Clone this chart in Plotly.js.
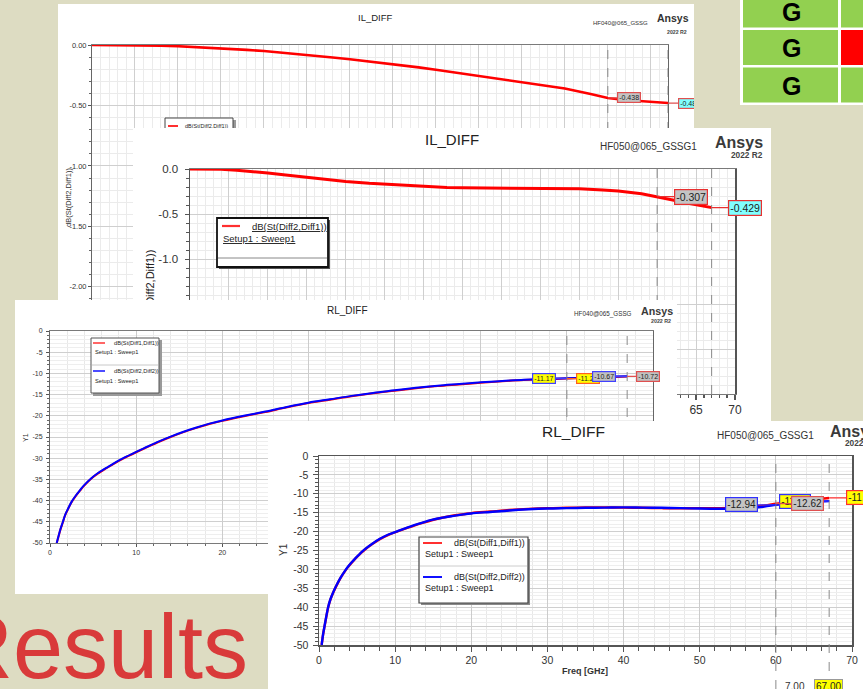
<!DOCTYPE html>
<html><head><meta charset="utf-8">
<script src="https://cdn.plot.ly/plotly-3.0.1.min.js"></script>
<style>
html,body{margin:0;padding:0;background:#dddcc2;overflow:hidden;}
#stage{position:relative;width:863px;height:689px;overflow:hidden;background:#dddcc2;}
.pn{position:absolute;overflow:hidden;}
</style></head><body>
<div id="stage">
 <div id="bg" class="pn" style="left:0px;top:0px;width:863px;height:689px;z-index:0"></div>
 <div id="p1" class="pn" style="left:58px;top:4px;width:636px;height:307px;z-index:1"></div>
 <div id="p2" class="pn" style="left:133px;top:128px;width:638px;height:293px;z-index:2"></div>
 <div id="p3" class="pn" style="left:15px;top:300px;width:662px;height:294px;z-index:3"></div>
 <div id="p4" class="pn" style="left:268px;top:421px;width:595px;height:268px;z-index:4"></div>
</div>
<script>
const FONT = '"Liberation Sans", Arial, sans-serif';

// ================= DATA =================
const markerFreqs = [60, 67];

// IL_DIFF  HF040@065_GSSG  dB(St(Diff2,Diff1))
const freqIL040 = [0,2,5,8,10,13,15,18,20,23,25,28,30,33,35,38,40,43,45,48,50,53,55,58,60,62,64,66,67];
const il040_S21 = [0,0,-0.002,-0.006,-0.01,-0.02,-0.027,-0.04,-0.05,-0.068,-0.082,-0.104,-0.118,-0.142,-0.158,-0.185,-0.205,-0.235,-0.255,-0.285,-0.306,-0.337,-0.36,-0.405,-0.438,-0.455,-0.466,-0.475,-0.48];
const il040Markers = [-0.438, -0.48];
const il040MarkerText = ['-0.438', '-0.480'];
const il040TickVals = [0, -0.5, -1, -1.5, -2];
const il040TickText = ['0.00', '-0.50', '-1.00', '-1.50', '-2.00'];

// IL_DIFF  HF050@065_GSSG1
const freqIL050 = [0,2,4,6,8,10,12,15,18,20,23,25,28,30,33,35,38,40,43,45,48,50,53,55,58,60,62,64,66,67];
const il050_S21 = [0,0,-0.004,-0.014,-0.028,-0.045,-0.065,-0.095,-0.122,-0.138,-0.158,-0.168,-0.185,-0.195,-0.205,-0.209,-0.212,-0.213,-0.213,-0.214,-0.216,-0.22,-0.232,-0.245,-0.275,-0.307,-0.345,-0.38,-0.41,-0.429];
const il050Markers = [-0.307, -0.429];
const il050MarkerText = ['-0.307', '-0.429'];
const il050TickVals = [0, -0.5, -1, -1.5, -2, -2.5];
const il050TickText = ['0.0', '-0.5', '-1.0', '-1.5', '-2.0', '-2.5'];
const il050FreqTickVals = [0,5,10,15,20,25,30,35,40,45,50,55,60,65,70];
const il050FreqTickText = ['0','5','10','15','20','25','30','35','40','45','50','55','60','65','70'];

// RL_DIFF  HF040@065_GSSG
const freqRL040 = [0.78,1,1.2,1.5,1.75,2,2.5,3,3.5,4,4.8,5.5,6.6,7.5,8.5,10,11,12.8,14,15.5,17,18.5,20,22.5,25,27.5,30,32.5,35,37.5,40,42.5,45,47.5,50,52.5,55,57.5,60,62,64,66,67];
const rl040_S22 = [-50,-48.3,-46.8,-45,-43.4,-42.3,-40.3,-38.8,-37.5,-36.3,-34.7,-33.6,-32.2,-31.1,-30,-28.5,-27.55,-25.9,-24.9,-23.75,-22.75,-21.85,-21.1,-20,-19,-17.9,-16.9,-16.1,-15.3,-14.6,-14,-13.4,-12.9,-12.5,-12.1,-11.8,-11.5,-11.3,-11.17,-11,-10.85,-10.72,-10.67];
const rl040_S11 = [-50,-48.4,-46.9,-45.1,-43.5,-42.4,-40.4,-38.9,-37.6,-36.4,-34.8,-33.7,-32.3,-31.2,-30.1,-28.6,-27.65,-26,-25,-23.85,-22.85,-21.95,-21.2,-20.1,-19.1,-18,-17,-16.2,-15.4,-14.7,-14.1,-13.5,-13,-12.6,-12.2,-11.85,-11.55,-11.35,-11.22,-11.05,-10.9,-10.77,-10.72];
const rl040MarkS22 = [-11.17, -10.67];
const rl040MarkS11 = [-11.22, -10.72];
const rl040MarkS22Text = ['-11.17', '-10.67'];
const rl040MarkS11Text = ['-11.22', '-10.72'];

// RL_DIFF  HF050@065_GSSG1
const freqRL050 = [0.35,0.55,0.8,1,1.2,1.5,1.9,2.3,2.8,3.3,3.8,4.3,4.8,5.4,6,7,8,9.2,10.4,11.5,12.5,13.6,14.8,16,17.5,19,20,22.5,25,27.5,30,32.5,35,37.5,40,42.5,45,47.5,50,52.5,55,57,58.5,60,61,62,63,64,65,66,67];
const rl050_S22 = [-50,-47,-44.2,-42,-40,-37.9,-35.9,-34.2,-32.3,-30.7,-29.3,-28.1,-27,-25.8,-24.7,-23.2,-21.9,-20.7,-19.8,-19,-18.3,-17.6,-16.9,-16.4,-15.9,-15.45,-15.2,-14.8,-14.4,-14.1,-13.9,-13.8,-13.7,-13.65,-13.6,-13.65,-13.7,-13.8,-13.9,-13.95,-13.9,-13.7,-13.4,-12.94,-12.7,-12.5,-12.35,-12.2,-12.1,-12,-11.93];
const rl050_S11 = [-50,-47.1,-44.3,-42.1,-40.1,-38,-36,-34.3,-32.4,-30.8,-29.4,-28.2,-27.1,-25.9,-24.8,-23.3,-22,-20.8,-19.9,-19.1,-18.4,-17.7,-17,-16.4,-15.8,-15.4,-15.1,-14.7,-14.3,-14,-13.8,-13.7,-13.6,-13.6,-13.65,-13.7,-13.8,-13.85,-13.8,-13.8,-13.7,-13.4,-13.1,-12.62,-12.35,-12.1,-11.9,-11.7,-11.5,-11.3,-11.1];
const rl050MarkS22 = [-12.94, -11.93];
const rl050MarkS11 = [-12.62, -11.10];
const rl050MarkS22Text = ['-12.94', '-11.93'];
const rl050MarkS11Text = ['-12.62', '-11.10'];
const xMarkerText = ['7.00', '67.00'];

const rlTickVals = [0,-5,-10,-15,-20,-25,-30,-35,-40,-45,-50];
const rlTickText = ['0','-5','-10','-15','-20','-25','-30','-35','-40','-45','-50'];
const freqTickVals = [0,10,20,30,40,50,60,70];
const freqTickText = ['0','10','20','30','40','50','60','70'];

// status table (top right)
const tableLetters = ['G','G','G'];
const tableCol2Fill = ['#92d050','#ff0000','#92d050'];

// ================= HELPERS =================
function geom(W,H,x0,x1,y0,y1){
  return {W:W,H:H,fx:p=>p/W,fy:p=>1-p/H,xd:[x0/W,x1/W],yd:[1-y1/H,1-y0/H]};
}
function label(g,x,y,text,size,o){
  o=o||{};
  return {xref:'paper',yref:'paper',x:g.fx(x),y:g.fy(y),text:text,showarrow:false,
    xanchor:o.xa||'center',yanchor:o.ya||'middle',textangle:o.angle||0,
    font:{family:FONT,size:size,color:o.color||'#333'}};
}
function rect(g,x0,y0,x1,y1,fill,line,lw){
  return {type:'rect',xref:'paper',yref:'paper',x0:g.fx(x0),x1:g.fx(x1),y0:g.fy(y0),y1:g.fy(y1),
    fillcolor:fill,line:{color:line||fill,width:lw===undefined?0:lw},layer:'above'};
}
function hline(g,x0,x1,y,color,w){
  return {type:'line',xref:'paper',yref:'paper',x0:g.fx(x0),x1:g.fx(x1),y0:g.fy(y),y1:g.fy(y),
    line:{color:color,width:w},layer:'above'};
}
function vdash(xv,y0,y1){
  return {type:'line',xref:'x',yref:'paper',x0:xv,x1:xv,y0:y0,y1:y1,line:{color:'#8a8a8a',width:1,dash:'dash'},layer:'above'};
}
function mark(xv,yv,text,ax,bg,border,size){
  return {xref:'x',yref:'y',x:xv,y:yv,ax:ax,ay:0,text:text,showarrow:true,arrowhead:0,
    arrowwidth:1.3,arrowcolor:border,standoff:0,bgcolor:bg,bordercolor:border,borderwidth:1.2,
    borderpad:1,font:{family:FONT,size:size,color:'#222'}};
}
function u(t){return '<span style="text-decoration:underline">'+t+'</span>';}
function axis(dom,range,o){
  return Object.assign({domain:dom,range:range,showline:true,mirror:true,linecolor:'#7a7a7a',linewidth:1,
    zeroline:false,showgrid:true,gridcolor:'#cfcfcf',gridwidth:1,ticks:'outside',tickcolor:'#555',
    ticklen:4,fixedrange:true,tickmode:'array'},o);
}
const CFG = {staticPlot:true,displayModeBar:false};

// ================= BACKGROUND (slide) =================
(function(){
  const g = geom(863,689,0,863,0,689);
  const shapes = [rect(g,740,-5,870,105,'#ffffff')];
  const rows = [[-5,27.5],[30,65],[67.5,102.5]];
  const ann = [];
  for(let i=0;i<tableLetters.length;i++){
    shapes.push(rect(g,743,rows[i][0],838,rows[i][1],'#92d050'));
    shapes.push(rect(g,841,rows[i][0],870,rows[i][1],tableCol2Fill[i]));
    ann.push(label(g,791,(rows[i][0]+rows[i][1])/2+1,'<b>'+tableLetters[i]+'</b>',25,{color:'#000'}));
  }
  ann.push(label(g,250,647,'Results',90,{xa:'right',color:'#d93a3a'}));
  Plotly.newPlot('bg',[],{width:863,height:689,margin:{l:0,r:0,t:0,b:0,pad:0},
    paper_bgcolor:'#dddcc2',plot_bgcolor:'rgba(0,0,0,0)',
    xaxis:{visible:false,range:[0,1]},yaxis:{visible:false,range:[0,1]},
    shapes:shapes,annotations:ann,showlegend:false},CFG);
})();

// ================= PANEL 1 : IL_DIFF HF040 =================
(function(){
  const g = geom(636,307,34,610,41,307);
  const shapes = [vdash(markerFreqs[0],0,g.fy(41)),vdash(markerFreqs[1],0,g.fy(41))];
  shapes.push(rect(g,109,116,178,180,'#9a9a9a'));
  shapes.push(rect(g,107,114,175,178,'#ffffff','#444',1));
  shapes.push(hline(g,110,120,122,'#ff3030',2));
  const ann = [
    label(g,317,13,'IL_DIFF',9.5,{color:'#222'}),
    label(g,562,19,'HF040@065_GSSG',6,{color:'#333'}),
    label(g,615,14,'<b>Ansys</b>',10.5,{color:'#333'}),
    label(g,631,28,'<b>2022 R2</b>',5.2,{xa:'right',color:'#444'}),
    label(g,11,194,'dB(St(Diff2,Diff1))',7.5,{angle:-90,color:'#333'}),
    label(g,125,122,'dB(St(Diff2,Diff1))',5.5,{xa:'left',color:'#222'}),
    mark(markerFreqs[0],il040Markers[0],il040MarkerText[0],21,'#c4c4c4','#e05050',7),
    mark(markerFreqs[1],il040Markers[1],il040MarkerText[1],22,'#80ffff','#e05050',7)
  ];
  Plotly.newPlot('p1',[{x:freqIL040,y:il040_S21,type:'scatter',mode:'lines',line:{color:'#ff0000',width:2.6},hoverinfo:'skip'}],{
    width:636,height:307,margin:{l:0,r:0,t:0,b:0,pad:0},paper_bgcolor:'#ffffff',plot_bgcolor:'#ffffff',showlegend:false,
    xaxis:axis(g.xd,[0,67],{tickvals:[0,5,10,15,20,25,30,35,40,45,50,55,60,65],showticklabels:false,ticks:'',
      minor:{dtick:1,tick0:0,showgrid:true,gridcolor:'#ebebeb',ticks:''}}),
    yaxis:axis(g.yd,[-2.2,0],{tickvals:il040TickVals,ticktext:il040TickText,linecolor:'#666',
      tickfont:{family:FONT,size:7.5,color:'#333'},ticklen:3,
      minor:{dtick:0.1,tick0:0,showgrid:true,gridcolor:'#ebebeb',ticks:'outside',ticklen:2,tickcolor:'#666'}}),
    shapes:shapes,annotations:ann},CFG);
})();

// ================= PANEL 2 : IL_DIFF HF050 =================
(function(){
  const g = geom(638,293,57,602,41,266);
  const shapes = [vdash(markerFreqs[0],g.fy(266),g.fy(41)),vdash(markerFreqs[1],g.fy(266),g.fy(41))];
  shapes.push(rect(g,86,92,197,141,'#555'));
  shapes.push(rect(g,84,90,195,139,'#ffffff','#111',1.8));
  shapes.push(hline(g,89,107,98,'#ff3030',2.2));
  shapes.push(hline(g,85,194,130,'#888',1));
  const ann = [
    label(g,319,12,'IL_DIFF',15,{color:'#222'}),
    label(g,515,19,'HF050@065_GSSG1',10,{color:'#333'}),
    label(g,606,14,'<b>Ansys</b>',16,{color:'#3a3a3a'}),
    label(g,632,27,'<b>2022 R2</b>',8.3,{xa:'right',color:'#444'}),
    label(g,17,165,'dB(St(Diff2,Diff1))',11,{angle:-90,color:'#222'}),
    label(g,117,98,u('dB(St(Diff2,Diff1))'),9.5,{xa:'left',color:'#222'}),
    label(g,88,111,u('Setup1 : Sweep1'),9.5,{xa:'left',color:'#222'}),
    mark(markerFreqs[0],il050Markers[0],il050MarkerText[0],34,'#c4c4c4','#e83030',10.5),
    mark(markerFreqs[1],il050Markers[1],il050MarkerText[1],33,'#80ffff','#e83030',10.5)
  ];
  Plotly.newPlot('p2',[{x:freqIL050,y:il050_S21,type:'scatter',mode:'lines',line:{color:'#ff0000',width:3},hoverinfo:'skip'}],{
    width:638,height:293,margin:{l:0,r:0,t:0,b:0,pad:0},paper_bgcolor:'#ffffff',plot_bgcolor:'#ffffff',showlegend:false,
    xaxis:axis(g.xd,[0,70],{tickvals:il050FreqTickVals,ticktext:il050FreqTickText,ticklen:5,tickwidth:1.5,
      tickfont:{family:FONT,size:12,color:'#333'},
      minor:{dtick:1,tick0:0,showgrid:true,gridcolor:'#ebebeb',ticks:'outside',ticklen:3,tickcolor:'#555'}}),
    yaxis:axis(g.yd,[-2.5,0],{tickvals:il050TickVals,ticktext:il050TickText,linecolor:'#555',linewidth:1.5,
      tickfont:{family:FONT,size:11.5,color:'#333'},ticklen:4,ticklabelstandoff:4,
      minor:{dtick:0.1,tick0:0,showgrid:true,gridcolor:'#ebebeb',ticks:'outside',ticklen:3,tickcolor:'#555'}}),
    shapes:shapes,annotations:ann},CFG);
})();

// ================= PANEL 3 : RL_DIFF HF040 =================
(function(){
  const g = geom(662,294,35,638,31,243);
  const shapes = [vdash(markerFreqs[0],g.fy(243),g.fy(31)),vdash(markerFreqs[1],g.fy(243),g.fy(31))];
  shapes.push(rect(g,78,40,147,96,'#9a9a9a'));
  shapes.push(rect(g,76,38,144,93,'#ffffff','#555',1));
  shapes.push(hline(g,78,90,43,'#ff4040',1.6));
  shapes.push(hline(g,77,143,65,'#c8c8c8',1));
  shapes.push(hline(g,78,90,71,'#2020ff',1.6));
  const ann = [
    label(g,332,10,'RL_DIFF',10,{color:'#222'}),
    label(g,588,14,'HF040@065_GSSG',6.3,{color:'#333'}),
    label(g,642,11,'<b>Ansys</b>',10.7,{color:'#3a3a3a'}),
    label(g,658,21,'<b>2022 R2</b>',5.3,{xa:'right',color:'#444'}),
    label(g,10,138,'Y1',7,{angle:-90,color:'#333'}),
    label(g,97,43,'dB(St(Diff1,Diff1))',5.7,{xa:'left',color:'#222'}),
    label(g,78,52,'Setup1 : Sweep1',5.7,{xa:'left',color:'#222'}),
    label(g,97,71,'dB(St(Diff2,Diff2))',5.7,{xa:'left',color:'#222'}),
    label(g,78,81,'Setup1 : Sweep1',5.7,{xa:'left',color:'#222'}),
    mark(markerFreqs[0],rl040MarkS22[0],rl040MarkS22Text[0],-23,'#ffff00','#4040ff',7),
    mark(markerFreqs[0],rl040MarkS11[0],rl040MarkS11Text[0],21,'#ffff00','#ff6020',7),
    mark(markerFreqs[1],rl040MarkS22[1],rl040MarkS22Text[1],-23,'#c0c0c0','#4040ff',7),
    mark(markerFreqs[1],rl040MarkS11[1],rl040MarkS11Text[1],21,'#c0c0c0','#e05050',7)
  ];
  Plotly.newPlot('p3',[
    {x:freqRL040,y:rl040_S11,type:'scatter',mode:'lines',line:{color:'#ff0000',width:2,shape:'spline'},hoverinfo:'skip'},
    {x:freqRL040,y:rl040_S22,type:'scatter',mode:'lines',line:{color:'#0000ff',width:2,shape:'spline'},hoverinfo:'skip'}],{
    width:662,height:294,margin:{l:0,r:0,t:0,b:0,pad:0},paper_bgcolor:'#ffffff',plot_bgcolor:'#ffffff',showlegend:false,
    xaxis:axis(g.xd,[0,70],{tickvals:freqTickVals,ticktext:freqTickText,ticklen:3,gridcolor:'#cccccc',
      tickfont:{family:FONT,size:7,color:'#333'},
      minor:{dtick:2,tick0:0,showgrid:true,gridcolor:'#e8e8e8',ticks:'outside',ticklen:2,tickcolor:'#666'}}),
    yaxis:axis(g.yd,[-50,0],{tickvals:rlTickVals,ticktext:rlTickText,linecolor:'#666',ticklen:3,
      tickfont:{family:FONT,size:7,color:'#333'},ticklabelstandoff:2,
      minor:{dtick:1,tick0:0,showgrid:true,gridcolor:'#eeeeee',ticks:'outside',ticklen:2,tickcolor:'#666'}}),
    shapes:shapes,annotations:ann},CFG);
})();

// ================= PANEL 4 : RL_DIFF HF050 =================
(function(){
  const g = geom(595,268,51,584,35,224);
  const shapes = [vdash(markerFreqs[0],0,g.fy(35)),vdash(markerFreqs[1],0,g.fy(35))];
  shapes.push(rect(g,153,118,262,184,'#8a8a8a'));
  shapes.push(rect(g,151,116,260,182,'#ffffff','#444',1.2));
  shapes.push(hline(g,155,174,122,'#ff3030',2));
  shapes.push(hline(g,152,259,145,'#cccccc',1));
  shapes.push(hline(g,155,174,156,'#1010ff',2));
  const ann = [
    label(g,306,11,'RL_DIFF',15.5,{color:'#222'}),
    label(g,497,15,'HF050@065_GSSG1',10,{color:'#333'}),
    label(g,586,11,'<b>Ansys</b>',16,{color:'#3a3a3a'}),
    label(g,611,22,'<b>2022 R2</b>',8.3,{xa:'right',color:'#444'}),
    label(g,15,129,'Y1',10,{angle:-90,color:'#333'}),
    label(g,317,250,'<b>Freq [GHz]</b>',9,{color:'#333'}),
    label(g,184,122,'dB(St(Diff1,Diff1))',9,{xa:'left',color:'#222'}),
    label(g,155,133,'Setup1 : Sweep1',9,{xa:'left',color:'#222'}),
    label(g,184,156,'dB(St(Diff2,Diff2))',9,{xa:'left',color:'#222'}),
    label(g,155,167,'Setup1 : Sweep1',9,{xa:'left',color:'#222'}),
    mark(markerFreqs[1],rl050MarkS22[1],rl050MarkS22Text[1],-34,'#ffff00','#3030ff',10),
    mark(markerFreqs[0],rl050MarkS22[0],rl050MarkS22Text[0],-34,'#c4c4c4','#3030ff',10),
    mark(markerFreqs[0],rl050MarkS11[0],rl050MarkS11Text[0],32,'#c4c4c4','#e05050',10),
    mark(markerFreqs[1],rl050MarkS11[1],rl050MarkS11Text[1],33,'#ffff00','#ff3030',10),
    label(g,527,265,xMarkerText[0],10,{color:'#333'}),
    Object.assign(label(g,560,265,xMarkerText[1],10,{color:'#222'}),{bgcolor:'#ffff00',bordercolor:'#999',borderwidth:1,borderpad:1})
  ];
  Plotly.newPlot('p4',[
    {x:freqRL050,y:rl050_S11,type:'scatter',mode:'lines',line:{color:'#ff0000',width:2.4,shape:'spline'},hoverinfo:'skip'},
    {x:freqRL050,y:rl050_S22,type:'scatter',mode:'lines',line:{color:'#0000ff',width:2.4,shape:'spline'},hoverinfo:'skip'}],{
    width:595,height:268,margin:{l:0,r:0,t:0,b:0,pad:0},paper_bgcolor:'#ffffff',plot_bgcolor:'#ffffff',showlegend:false,
    xaxis:axis(g.xd,[0,70],{tickvals:freqTickVals,ticktext:freqTickText,ticklen:5,linecolor:'#555',linewidth:1.5,
      tickfont:{family:FONT,size:10.5,color:'#333'},gridcolor:'#cccccc',
      minor:{dtick:2,tick0:0,showgrid:true,gridcolor:'#e8e8e8',ticks:'outside',ticklen:4,tickcolor:'#555'}}),
    yaxis:axis(g.yd,[-50,0],{tickvals:rlTickVals,ticktext:rlTickText,linecolor:'#555',linewidth:1.5,ticklen:5,
      tickfont:{family:FONT,size:10.5,color:'#333'},ticklabelstandoff:2,
      minor:{dtick:1,tick0:0,showgrid:true,gridcolor:'#eeeeee',ticks:'outside',ticklen:3,tickcolor:'#555'}}),
    shapes:shapes,annotations:ann},CFG);
})();
</script></body></html>
